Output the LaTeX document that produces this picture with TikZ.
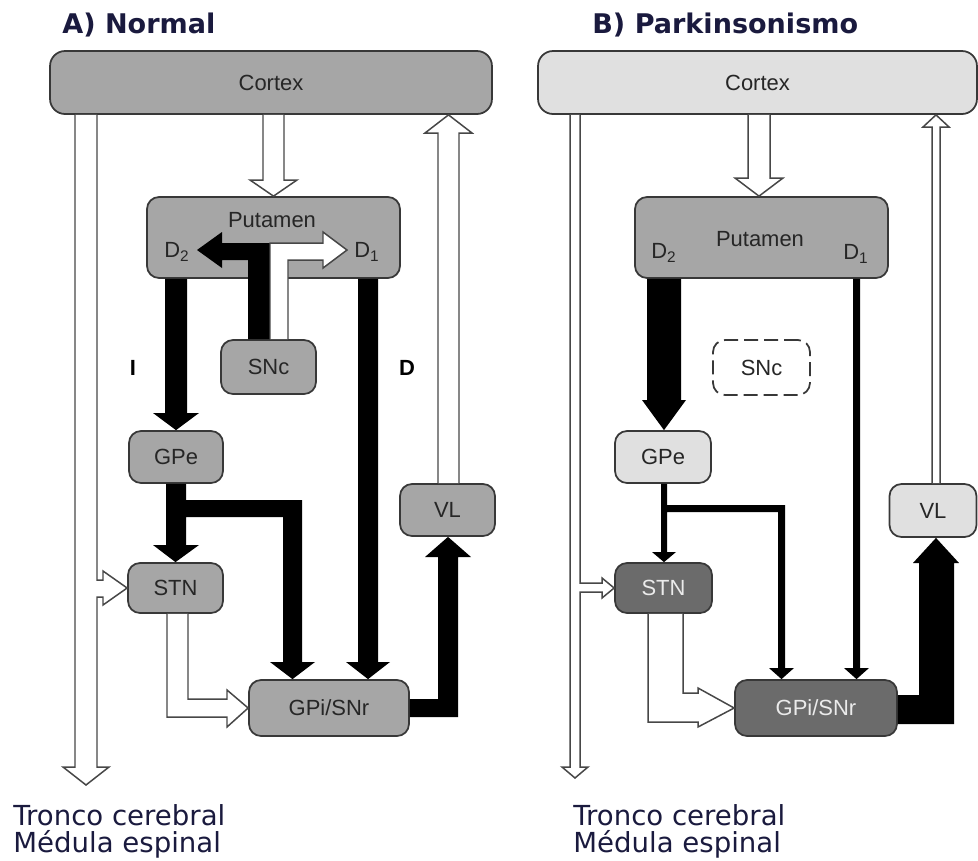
\documentclass[tikz,border=0pt]{standalone}
\usepackage{fontspec}
\setmainfont{Liberation Sans}
\newfontfamily\verd{DejaVu Sans}
\usepackage{tikz}

\definecolor{navy}{RGB}{26,26,62}

\begin{document}
\begin{tikzpicture}[
    x=0.02cm, y=-0.02cm,
    boxA/.style={rectangle, draw=black!78, line width=1pt, rounded corners=0.24cm, fill=black!35, text=black!85, inner sep=0pt, font=\fontsize{12.5}{14}\selectfont},
    boxBl/.style={boxA, fill=black!12},
    boxBd/.style={boxA, fill=black!58, text=black!8},
    boxBx/.style={boxA, fill=white, dash pattern=on 0.28cm off 0.12cm},
    lbl/.style={inner sep=0pt, font=\fontsize{12.5}{14}\selectfont, text=black!85},
    lettr/.style={inner sep=0pt, font=\bfseries\fontsize{12.5}{14}\selectfont},
    ttl/.style={anchor=base west, inner sep=0pt, text=navy, font=\verd\bfseries\fontsize{15.4}{18}\selectfont},
    foot/.style={anchor=base west, inner sep=0pt, text=navy, font=\verd\fontsize{15.7}{18}\selectfont},
    blk/.style={fill=black},
    opn/.style={fill=white, draw=black!72, line width=0.85pt, line join=miter}
]
    \useasboundingbox (0,0) rectangle (978,860);

    % A) Normal
    \node[ttl] (ttlA) at (62,33) {A) Normal};
    \node[boxA, rounded corners=0.3cm, minimum width=8.84cm, minimum height=1.26cm] (ctxA) at (271,82.5) {Cortex};
    \node[boxA, minimum width=5.06cm, minimum height=1.62cm] (putA) at (273.5,237.5) {};
    \node[lbl] (putAtxt) at (272,220) {Putamen};
    \node[lbl] (d2A) at (177,252) {D\textsubscript{2}};
    \node[lbl] (d1A) at (367,252) {D\textsubscript{1}};
    \node[boxA, minimum width=1.9cm, minimum height=1.08cm] (sncA) at (268.5,367) {SNc};
    \node[boxA, minimum width=1.88cm, minimum height=1.04cm] (gpeA) at (176,457) {GPe};
    \node[boxA, minimum width=1.9cm, minimum height=1.0cm] (stnA) at (175.5,588) {STN};
    \node[boxA, minimum width=3.2cm, minimum height=1.12cm] (gpiA) at (329,708) {GPi/SNr};
    \node[boxA, minimum width=1.9cm, minimum height=1.04cm] (vlA) at (447.5,510) {VL};
    \node[lettr] (indA) at (133,368) {I};
    \node[lettr] (dirA) at (407,368) {D};
    \node[foot] (trA) at (13,825) {Tronco cerebral};
    \node[foot] (meA) at (13,852) {Médula espinal};

    % A) arrows
    \filldraw[opn] (75,0 |- ctxA.south) -- (75,767) -- (63,767) -- (86,785) -- (109,767) -- (97,767) -- (97,597) -- (103,597) -- (103,605) -- (stnA.west) -- (103,571) -- (103,580) -- (97,580) -- (97,0 |- ctxA.south);
    \filldraw[opn] (263,0 |- ctxA.south) -- (263,180) -- (250,180) -- (putA.north) -- (297,180) -- (284,180) -- (284,0 |- ctxA.south);
    \fill[blk] (248,0 |- sncA.north) -- (248,260) -- (222,260) -- (222,268) -- (197,250) -- (222,232) -- (222,243) -- (270,243) -- (270,0 |- sncA.north) -- cycle;
    \filldraw[opn] (270,0 |- sncA.north) -- (270,243) -- (323,243) -- (323,232) -- (347,250) -- (323,268) -- (323,260) -- (288,260) -- (288,0 |- sncA.north);
    \fill[blk] (165,0 |- putA.south) -- (165,413) -- (153,413) -- (gpeA.north) -- (199,413) -- (187,413) -- (187,0 |- putA.south) -- cycle;
    \fill[blk] (358,0 |- putA.south) -- (358,662) -- (346,662) -- (368,0 |- gpiA.north) -- (390,662) -- (378,662) -- (378,0 |- putA.south) -- cycle;
    \fill[blk] (166,0 |- gpeA.south) -- (166,545) -- (153,545) -- (stnA.north) -- (199,545) -- (186,545) -- (186,517) -- (283,517) -- (283,662) -- (270,662) -- (292.5,0 |- gpiA.north) -- (315,662) -- (302,662) -- (302,500) -- (186,500) -- (186,0 |- gpeA.south) -- cycle;
    \filldraw[opn] (167,0 |- stnA.south) -- (167,717) -- (227,717) -- (227,727) -- (gpiA.west) -- (227,690) -- (227,699) -- (188,699) -- (188,0 |- stnA.south);
    \fill[blk] (gpiA.east |- 0,699) -- (438,699) -- (438,557) -- (425,557) -- (448,0 |- vlA.south) -- (471,557) -- (458,557) -- (458,717) -- (gpiA.east |- 0,717) -- cycle;
    \filldraw[opn] (438,0 |- vlA.north) -- (438,133) -- (425,133) -- (448.5,0 |- ctxA.south) -- (472,133) -- (459,133) -- (459,0 |- vlA.north);

    % B) Parkinsonismo
    \node[ttl] (ttlB) at (592,33) {B) Parkinsonismo};
    \node[boxBl, rounded corners=0.3cm, minimum width=8.78cm, minimum height=1.26cm] (ctxB) at (757.5,82.5) {Cortex};
    \node[boxA, minimum width=5.06cm, minimum height=1.62cm] (putB) at (761.5,237.5) {};
    \node[lbl] (putBtxt) at (760,239) {Putamen};
    \node[lbl] (d2B) at (664,253) {D\textsubscript{2}};
    \node[lbl] (d1B) at (856,254) {D\textsubscript{1}};
    \node[boxBx, minimum width=1.94cm, minimum height=1.1cm] (sncB) at (761.5,367.5) {SNc};
    \node[boxBl, minimum width=1.92cm, minimum height=1.04cm] (gpeB) at (663,457) {GPe};
    \node[boxBd, minimum width=1.94cm, minimum height=1.0cm] (stnB) at (663.5,588) {STN};
    \node[boxBd, minimum width=3.24cm, minimum height=1.12cm] (gpiB) at (816,708) {GPi/SNr};
    \node[boxBl, minimum width=1.74cm, minimum height=1.06cm] (vlB) at (933,510.5) {VL};
    \node[foot] (trB) at (573,825) {Tronco cerebral};
    \node[foot] (meB) at (573,852) {Médula espinal};

    % B) arrows
    \filldraw[opn] (570,0 |- ctxB.south) -- (570,767) -- (562,767) -- (575,778) -- (588,767) -- (580,767) -- (580,592) -- (602,592) -- (602,598) -- (stnB.west) -- (602,578) -- (602,583) -- (580,583) -- (580,0 |- ctxB.south);
    \filldraw[opn] (748,0 |- ctxB.south) -- (748,178) -- (735,178) -- (759,0 |- putB.north) -- (783,178) -- (770,178) -- (770,0 |- ctxB.south);
    \fill[blk] (647,0 |- putB.south) -- (647,400) -- (642,400) -- (664,0 |- gpeB.north) -- (686,400) -- (681,400) -- (681,0 |- putB.south) -- cycle;
    \fill[blk] (853,0 |- putB.south) -- (853,668) -- (844,668) -- (856.5,0 |- gpiB.north) -- (869,668) -- (860,668) -- (860,0 |- putB.south) -- cycle;
    \fill[blk] (661,0 |- gpeB.south) -- (661,552) -- (652,552) -- (664,0 |- stnB.north) -- (676,552) -- (667,552) -- (667,512) -- (778,512) -- (778,668) -- (769,668) -- (781.5,0 |- gpiB.north) -- (794,668) -- (785,668) -- (785,505) -- (667,505) -- (667,0 |- gpeB.south) -- cycle;
    \filldraw[opn] (648,0 |- stnB.south) -- (648,722) -- (698,722) -- (698,727) -- (gpiB.west) -- (698,688) -- (698,693) -- (683,693) -- (683,0 |- stnB.south);
    \fill[blk] (gpiB.east |- 0,695) -- (919,695) -- (919,563) -- (913,563) -- (936,0 |- vlB.south) -- (959,563) -- (954,563) -- (954,724) -- (gpiB.east |- 0,724) -- cycle;
    \filldraw[opn] (932,0 |- vlB.north) -- (932,127) -- (923,127) -- (936,0 |- ctxB.south) -- (949,127) -- (940,127) -- (940,0 |- vlB.north);
\end{tikzpicture}
\end{document}
